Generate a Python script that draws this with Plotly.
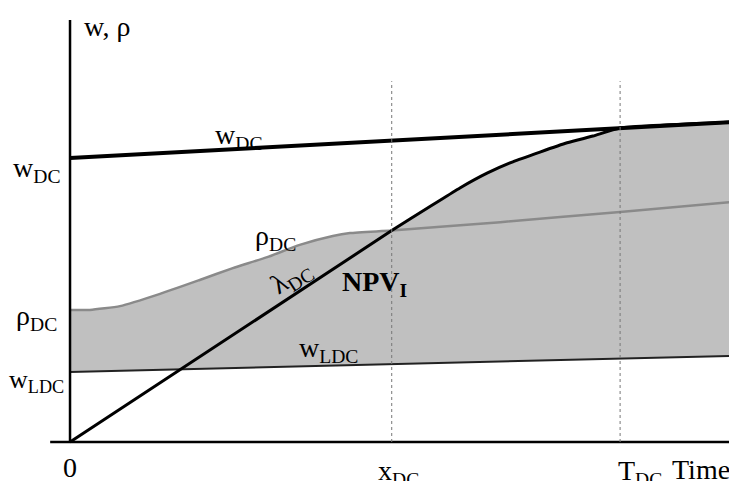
import plotly.graph_objects as go

# ---- data (time units 0..10, value units 0..10) ----
x_dc = 4.86
t_dc = 8.31
t_end = 10.0

w_dc_t = [0.0, 10.0]
w_dc_v = [6.73, 7.58]

w_ldc_t = [0.0, 10.0]
w_ldc_v = [1.66, 2.04]

rho_t = [0.0, 0.30, 0.755, 1.36, 1.96, 2.46, 2.98, 3.47, 3.97, 4.23, 4.86, 6.50, 8.31, 10.0]
rho_v = [3.13, 3.13, 3.22, 3.51, 3.84, 4.12, 4.38, 4.67, 4.88, 4.95, 5.01, 5.21, 5.45, 5.69]

lam_t = [0.0, 4.86, 5.48, 5.89, 6.30, 6.69, 7.51, 7.90, 8.31, 10.0]
lam_v = [0.0, 5.01, 5.62, 6.02, 6.37, 6.64, 7.09, 7.25, 7.44, 7.58]

x_ticks = [0.0, x_dc, t_dc]
x_labels = ["0", "x<sub>DC</sub>", "T<sub>DC</sub>"]

FONT = "Liberation Serif"

# upper boundary of NPV region: rho until x_dc, then lambda
upper_t = [t for t in rho_t if t <= x_dc] + [t for t in lam_t if t > x_dc]
upper_v = [v for t, v in zip(rho_t, rho_v) if t <= x_dc] + [v for t, v in zip(lam_t, lam_v) if t > x_dc]

fig = go.Figure()
fig.add_trace(go.Scatter(x=w_ldc_t, y=w_ldc_v, mode="lines", line=dict(width=0, color="rgba(0,0,0,0)"),
                         hoverinfo="skip", showlegend=False))
fig.add_trace(go.Scatter(x=upper_t, y=upper_v, mode="lines", fill="tonexty", fillcolor="#c0c0c0",
                         line=dict(width=0, color="rgba(0,0,0,0)", shape="spline", smoothing=0.5),
                         hoverinfo="skip", showlegend=False))
fig.add_trace(go.Scatter(x=rho_t, y=rho_v, mode="lines",
                         line=dict(width=2.5, color="#8a8a8a", shape="spline", smoothing=0.5), showlegend=False))
fig.add_trace(go.Scatter(x=w_ldc_t, y=w_ldc_v, mode="lines",
                         line=dict(width=2, color="#222222"), showlegend=False))
fig.add_trace(go.Scatter(x=w_dc_t, y=w_dc_v, mode="lines",
                         line=dict(width=4, color="#000000"), showlegend=False))
fig.add_trace(go.Scatter(x=lam_t, y=lam_v, mode="lines",
                         line=dict(width=3, color="#000000", shape="spline", smoothing=0.5), showlegend=False))

# axes and guide lines
shapes = [
    dict(type="line", x0=-0.3, x1=9.97, y0=0, y1=0, line=dict(color="black", width=2.5), layer="above"),
    dict(type="line", x0=0, x1=0, y0=0, y1=10.0, line=dict(color="black", width=2.5), layer="above"),
]
for xv in [x_dc, t_dc]:
    shapes.append(dict(type="line", x0=xv, x1=xv, y0=0, y1=8.55,
                       line=dict(color="#777777", width=1, dash="dot"), layer="above"))

def ann(x, y, text, size=28, xanchor="center", angle=0):
    return dict(x=x, y=y, xref="x", yref="y", text=text, showarrow=False, xanchor=xanchor,
                yanchor="middle", textangle=angle, font=dict(family=FONT, size=size, color="black"))

annotations = [
    ann(0.18, 9.85, "w, ρ", xanchor="left"),
    ann(-0.12, 6.45, "w<sub>DC</sub>", xanchor="right"),
    ann(-0.17, 2.95, "ρ<sub>DC</sub>", xanchor="right"),
    ann(-0.06, 1.45, "w<sub>LDC</sub>", size=26, xanchor="right"),
    ann(2.55, 7.25, "w<sub>DC</sub>"),
    ann(3.1, 4.85, "ρ<sub>DC</sub>"),
    ann(3.35, 3.9, "λ<sub>DC</sub>", angle=-33),
    ann(4.6, 3.75, "<b>NPV<sub>I</sub></b>"),
    ann(3.9, 2.2, "w<sub>LDC</sub>"),
    ann(9.06, -0.66, "Time", xanchor="left"),
]
x_off = [0.0, 0.1, 0.3]
x_y = [-0.6, -0.72, -0.72]
for xv, off, yy, lab in zip(x_ticks, x_off, x_y, x_labels):
    annotations.append(ann(xv + off, yy, lab))

# the page adds an 8px body margin; the ranges below place the drawing accordingly
fig.update_layout(
    width=729, height=473,
    margin=dict(l=0, r=0, t=0, b=0),
    paper_bgcolor="white", plot_bgcolor="white",
    xaxis=dict(range=[-0.937, 10.076], visible=False, fixedrange=True),
    yaxis=dict(range=[-0.924, 10.284], visible=False, fixedrange=True),
    shapes=shapes, annotations=annotations,
)
fig.write_html("out.html")
